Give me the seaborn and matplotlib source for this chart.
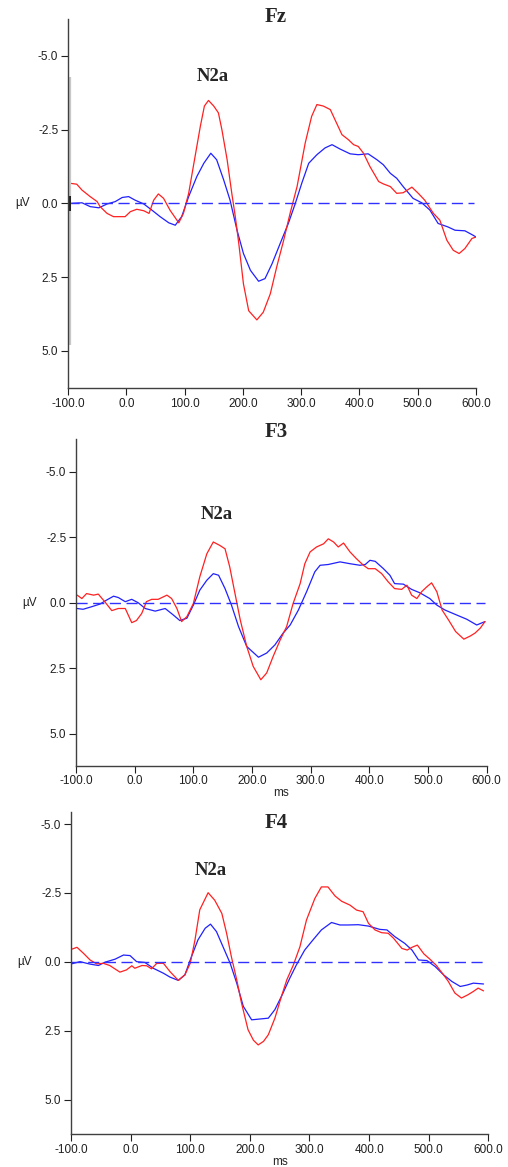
import pandas as pd
import seaborn as sns
import matplotlib
matplotlib.use("Agg")
import matplotlib.pyplot as plt

# ---- data (ms, microvolts; negative plotted up) ----
fz_red_t = [-96, -85, -76, -62, -50, -45, -33, -22, -2, 7, 18, 30, 39, 47, 55, 64, 75, 90, 98,
            107, 115, 127, 134, 141, 150, 158, 164, 173, 181, 187, 193, 201, 210, 224, 235, 247,
            258, 270, 281, 293, 307, 318, 327, 338, 350, 358, 370, 381, 390, 398, 407, 418, 433,
            441, 453, 464, 475, 490, 501, 512, 527, 538, 550, 561, 571, 581, 593, 600]
fz_red_v = [-0.68, -0.65, -0.45, -0.23, -0.06, 0.11, 0.34, 0.45, 0.45, 0.28, 0.2, 0.25, 0.34,
            -0.11, -0.32, -0.17, 0.23, 0.66, 0.34, -0.34, -1.25, -2.61, -3.3, -3.49, -3.3, -3.07,
            -2.5, -1.48, -0.34, 0.45, 1.36, 2.73, 3.64, 3.95, 3.69, 3.07, 2.16, 1.25, 0.34, -0.57,
            -2.05, -2.95, -3.35, -3.3, -3.18, -2.84, -2.33, -2.16, -1.99, -1.93, -1.7, -1.25,
            -0.74, -0.66, -0.57, -0.34, -0.36, -0.55, -0.34, -0.11, 0.34, 0.57, 1.25, 1.59, 1.7,
            1.53, 1.19, 1.14]
fz_blue_t = [-96, -76, -62, -47, -33, -19, -7, 4, 15, 30, 44, 58, 73, 84, 95, 107, 121, 133, 145,
             155, 167, 178, 190, 201, 213, 227, 238, 250, 264, 278, 290, 301, 313, 327, 341, 353,
             367, 384, 398, 415, 430, 441, 453, 464, 475, 492, 507, 521, 535, 552, 564, 581, 595,
             600]
fz_blue_v = [0.0, -0.02, 0.11, 0.15, 0.02, -0.06, -0.2, -0.23, -0.11, 0.02, 0.23, 0.45, 0.66,
             0.74, 0.45, -0.23, -0.91, -1.36, -1.7, -1.48, -0.8, -0.11, 0.91, 1.7, 2.27, 2.64,
             2.55, 2.05, 1.36, 0.68, 0.0, -0.68, -1.36, -1.65, -1.88, -1.99, -1.84, -1.68, -1.65,
             -1.68, -1.48, -1.31, -1.02, -0.85, -0.57, -0.17, -0.02, 0.23, 0.68, 0.8, 0.91, 0.93,
             1.08, 1.14]

f3_red_t = [-98, -90, -82, -70, -62, -51, -39, -28, -16, -5, 3, 12, 20, 29, 40, 55, 63, 72, 80,
            89, 100, 111, 123, 134, 145, 154, 162, 171, 180, 191, 202, 215, 225, 236, 248, 259,
            270, 282, 290, 299, 310, 322, 330, 339, 347, 356, 367, 378, 390, 398, 410, 421, 432,
            443, 455, 464, 472, 481, 489, 498, 506, 515, 524, 535, 547, 561, 572, 580, 589, 597]
f3_red_v = [-0.29, -0.16, -0.35, -0.29, -0.33, -0.04, 0.3, 0.22, 0.22, 0.76, 0.68, 0.41, -0.04,
            -0.13, -0.13, -0.29, -0.16, 0.22, 0.72, 0.53, 0.03, -0.99, -1.87, -2.32, -2.19, -2.06,
            -1.37, -0.35, 0.66, 1.67, 2.43, 2.94, 2.68, 2.05, 1.42, 0.91, 0.03, -0.73, -1.49,
            -1.94, -2.13, -2.25, -2.44, -2.32, -2.13, -2.28, -1.94, -1.68, -1.43, -1.3, -1.3,
            -1.11, -0.8, -0.54, -0.51, -0.67, -0.29, -0.16, -0.42, -0.61, -0.76, -0.42, 0.28,
            0.66, 1.1, 1.39, 1.27, 1.16, 0.97, 0.72]
f3_blue_t = [-98, -88, -73, -59, -48, -36, -28, -16, -5, 6, 18, 35, 52, 66, 77, 89, 100, 111, 123,
             134, 143, 154, 165, 177, 191, 211, 225, 239, 253, 265, 279, 293, 307, 316, 330, 350,
             367, 384, 393, 401, 410, 424, 435, 443, 458, 472, 486, 503, 515, 529, 549, 566, 583,
             597]
f3_blue_v = [0.22, 0.25, 0.15, 0.05, -0.1, -0.25, -0.2, -0.04, -0.13, 0.0, 0.22, 0.32, 0.22,
             0.47, 0.68, 0.59, 0.09, -0.48, -0.86, -1.11, -1.05, -0.54, 0.09, 0.91, 1.67, 2.08,
             1.92, 1.61, 1.16, 0.85, 0.28, -0.42, -1.18, -1.43, -1.46, -1.56, -1.49, -1.43, -1.46,
             -1.62, -1.58, -1.3, -1.05, -0.73, -0.71, -0.51, -0.38, -0.16, 0.09, 0.28, 0.47, 0.63,
             0.85, 0.72]

f4_red_t = [-99, -90, -79, -68, -57, -46, -35, -18, -7, 2, 7, 19, 27, 35, 44, 55, 66, 80, 91,
            100, 108, 116, 130, 141, 153, 161, 169, 178, 186, 197, 206, 214, 223, 231, 242, 253,
            262, 273, 284, 295, 309, 320, 331, 343, 354, 368, 379, 390, 399, 410, 421, 432, 441,
            455, 464, 472, 481, 492, 502, 513, 525, 533, 544, 555, 566, 575, 583, 592]
f4_red_v = [-0.46, -0.53, -0.31, -0.07, 0.07, 0.05, 0.13, 0.37, 0.29, 0.14, 0.23, 0.13, 0.14,
            0.25, 0.05, 0.05, 0.35, 0.67, 0.47, 0.05, -0.8, -1.89, -2.51, -2.24, -1.76, -1.04,
            -0.19, 0.65, 1.49, 2.46, 2.84, 3.01, 2.88, 2.64, 2.04, 1.25, 0.65, 0.11, -0.55, -1.52,
            -2.3, -2.72, -2.72, -2.39, -2.2, -2.06, -1.88, -1.82, -1.4, -1.16, -1.06, -1.04,
            -0.86, -0.49, -0.43, -0.53, -0.61, -0.29, -0.1, 0.13, 0.47, 0.71, 1.13, 1.31, 1.19,
            1.07, 0.95, 1.05]
f4_blue_t = [-99, -85, -68, -54, -43, -26, -12, -1, 10, 24, 38, 55, 66, 80, 91, 102, 113, 125, 134,
             144, 155, 167, 178, 189, 203, 217, 231, 242, 253, 267, 278, 292, 306, 320, 337, 351,
             365, 382, 399, 418, 430, 443, 460, 472, 483, 497, 511, 525, 539, 553, 564, 575, 592]
f4_blue_v = [0.07, -0.01, 0.08, 0.13, 0.01, -0.1, -0.25, -0.23, -0.01, 0.02, 0.23, 0.41, 0.55,
             0.67, 0.47, -0.19, -0.8, -1.22, -1.37, -1.1, -0.55, 0.05, 0.77, 1.61, 2.1, 2.07, 2.04,
             1.73, 1.25, 0.59, 0.11, -0.43, -0.8, -1.16, -1.43, -1.34, -1.34, -1.35, -1.3, -1.18,
             -1.16, -0.92, -0.67, -0.43, -0.07, -0.05, 0.17, 0.47, 0.71, 0.89, 0.84, 0.77, 0.8]

channels = ["Fz", "F3", "F4"]
y_ticks = [-5.0, -2.5, 0.0, 2.5, 5.0]
x_ticks = [-100, 0, 100, 200, 300, 400, 500, 600]
# where the N2a label sits (ms, uV)
n2a_pos = {"Fz": (148, -4.3), "F3": (140, -3.35), "F4": (135, -3.3)}

series = {
    "Fz": [(fz_red_t, fz_red_v, "red"), (fz_blue_t, fz_blue_v, "blue")],
    "F3": [(f3_red_t, f3_red_v, "red"), (f3_blue_t, f3_blue_v, "blue")],
    "F4": [(f4_red_t, f4_red_v, "red"), (f4_blue_t, f4_blue_v, "blue")],
}

rows = []
for ch, lst in series.items():
    for t, v, cond in lst:
        for a, b in zip(t, v):
            rows.append({"channel": ch, "cond": cond, "ms": a, "uV": b})
df = pd.DataFrame(rows)

sns.set_style("ticks")
plt.rcParams["font.family"] = ["Liberation Sans", "DejaVu Sans"]

fig = plt.figure(figsize=(5.08, 11.67), dpi=100)
# axes boxes [left, bottom, width, height] and y limits (bottom, top)
boxes = {
    "Fz": ([0.1339, 0.6675, 0.8031, 0.3162], (6.26, -6.25)),
    "F3": ([0.1496, 0.3439, 0.8085, 0.2799], (6.22, -6.25)),
    "F4": ([0.1398, 0.0283, 0.8214, 0.2762], (6.24, -5.45)),
}
# title position in figure pixels from top
title_y = {"Fz": 17, "F3": 432, "F4": 823}
palette = {"red": "#ff2020", "blue": "#2020ff"}
axis_col = "#404040"

for ch in channels:
    box, ylim = boxes[ch]
    ax = fig.add_axes(box)
    sub = df[df["channel"] == ch]
    sns.lineplot(data=sub, x="ms", y="uV", hue="cond", palette=palette,
                 hue_order=["blue", "red"], linewidth=0.9, legend=False, ax=ax,
                 estimator=None, sort=False)
    ax.axhline(0, xmin=0.0, xmax=0.995, color="#3030ff", lw=1.0, dashes=(8, 4))
    ax.set_xlim(-100, 600)
    ax.set_ylim(*ylim)
    ax.set_yticks(y_ticks)
    ax.set_yticklabels([f"{v:.1f}" for v in y_ticks])
    ax.set_xticks(x_ticks)
    ax.set_xticklabels([f"{v:.1f}" for v in x_ticks])
    ax.tick_params(labelsize=8.5, colors="#202020", length=5, width=0.8, pad=2)
    for s in ("top", "right"):
        ax.spines[s].set_visible(False)
    for s in ("left", "bottom"):
        ax.spines[s].set_color(axis_col)
        ax.spines[s].set_linewidth(1.0)
    ax.set_xlabel("ms" if ch != "Fz" else "", fontsize=8.5, labelpad=0)
    ax.set_ylabel("")
    ax.text(-0.13, 0, "µV", transform=ax.get_yaxis_transform(), ha="left",
            va="center", fontsize=8.5, color="#202020")
    fig.text(276 / 508, 1 - title_y[ch] / 1167, ch, ha="center", va="center",
             fontsize=15, fontweight="bold", family=["Liberation Serif"])
    nx, ny = n2a_pos[ch]
    ax.text(nx, ny, "N2a", ha="center", va="center", fontsize=13.5,
            fontweight="bold", family=["Liberation Serif"])
    if ch == "Fz":
        ax.vlines(-96.6, -4.3, 4.8, color="#c8c8c8", lw=1.6)
        ax.vlines(-96.6, -0.25, 0.25, color="black", lw=1.2)

fig.savefig("out.png", dpi=100)
